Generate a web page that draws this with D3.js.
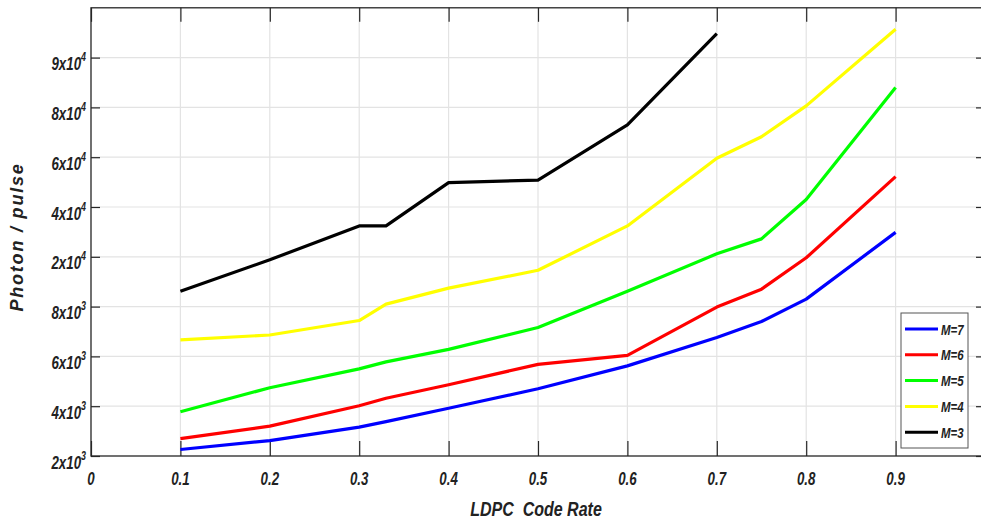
<!DOCTYPE html>
<html>
<head>
<meta charset="utf-8">
<script src="https://cdn.jsdelivr.net/npm/d3@7"></script>
<style>
  body { margin: 0; background: #fff; }
  svg { display: block; }
  .tick-label { font-family: "Liberation Sans", Arial, sans-serif; font-style: italic; font-weight: bold; fill: #222; }
</style>
</head>
<body>
<svg id="chart"></svg>
<script>
const width = 981
const height = 522

// x values (LDPC code rate) for each series
const ratesLong = [0.1, 0.2, 0.3, 0.33, 0.4, 0.5, 0.6, 0.7, 0.75, 0.8, 0.9]
const ratesM3 = [0.1, 0.2, 0.3, 0.33, 0.4, 0.5, 0.6, 0.7]

// photon / pulse
const m7 = [2260, 2620, 3160, 3380, 3920, 4700, 5620, 6760, 7400, 9800, 29800]
const m6 = [2700, 3200, 4020, 4320, 4860, 5680, 6040, 7980, 12200, 19760, 52200]
const m5 = [3780, 4740, 5500, 5780, 6280, 7160, 11720, 21200, 27200, 43000, 84000]
const m4 = [6660, 6860, 7440, 8600, 12440, 16760, 32400, 59600, 68200, 80300, 95700]
const m3 = [11720, 19280, 32400, 32400, 49800, 50800, 73000, 94800]

// y ticks are spaced evenly, whatever their value
const yTickValues = [2000, 4000, 6000, 8000, 20000, 40000, 60000, 80000, 90000]
const yTickMant = ['2', '4', '6', '8', '2', '4', '6', '8', '9']
const yTickExp = ['3', '3', '3', '3', '4', '4', '4', '4', '4']
const xTicks = [0, 0.1, 0.2, 0.3, 0.4, 0.5, 0.6, 0.7, 0.8, 0.9]

const series = [
  { name: 'M=7', color: '#0000ff', x: ratesLong, y: m7 },
  { name: 'M=6', color: '#ff0000', x: ratesLong, y: m6 },
  { name: 'M=5', color: '#00ff00', x: ratesLong, y: m5 },
  { name: 'M=4', color: '#ffff00', x: ratesLong, y: m4 },
  { name: 'M=3', color: '#000000', x: ratesM3, y: m3 }
]

const pLeft = 91, pRight = 985, pTop = 7.8, pBottom = 456
const step = (pBottom - pTop) / 9
const narrow = 0.74 // no narrow font installed, squeeze instead

const svg = d3.select('#chart').attr('width', width).attr('height', height)

const x = d3.scaleLinear().domain([0, 1]).range([pLeft, pRight])
// piecewise scale over the tick values
const y = d3.scaleLinear()
  .domain(yTickValues)
  .range(yTickValues.map((d, i) => pBottom - i * step))

// grid
const grid = svg.append('g').attr('class', 'grid')
grid.selectAll('.vg')
  .data(xTicks.slice(1))
  .enter()
  .append('line')
  .attr('x1', d => x(d)).attr('x2', d => x(d))
  .attr('y1', pTop).attr('y2', pBottom)
  .attr('stroke', '#e3e3e3').attr('stroke-width', 1.2)
grid.selectAll('.hg')
  .data(yTickValues.slice(1))
  .enter()
  .append('line')
  .attr('x1', pLeft).attr('x2', pRight)
  .attr('y1', d => y(d)).attr('y2', d => y(d))
  .attr('stroke', '#e3e3e3').attr('stroke-width', 1.2)

// box
svg.append('rect')
  .attr('x', pLeft).attr('y', pTop)
  .attr('width', pRight - pLeft).attr('height', pBottom - pTop)
  .attr('fill', 'none').attr('stroke', '#262626').attr('stroke-width', 1.3)

// axes with inward ticks
const xAxisB = d3.axisBottom(x).tickValues(xTicks).tickSize(-15).tickFormat('')
const xAxisT = d3.axisTop(x).tickValues(xTicks).tickSize(-14).tickFormat('')
const yAxisL = d3.axisLeft(y).tickValues(yTickValues).tickSize(-9).tickFormat('')
const yAxisR = d3.axisRight(y).tickValues(yTickValues).tickSize(-9).tickFormat('')

function styleAxis(g) {
  g.select('.domain').remove()
  g.selectAll('.tick line').attr('stroke', '#262626').attr('stroke-width', 1.2)
}
svg.append('g').attr('transform', `translate(0,${pBottom})`).call(xAxisB).call(styleAxis)
svg.append('g').attr('transform', `translate(0,${pTop})`).call(xAxisT).call(styleAxis)
svg.append('g').attr('transform', `translate(${pLeft},0)`).call(yAxisL).call(styleAxis)
svg.append('g').attr('transform', `translate(${pRight},0)`).call(yAxisR).call(styleAxis)

// x tick labels
svg.append('g')
  .selectAll('text')
  .data(xTicks)
  .enter()
  .append('text')
  .attr('class', 'tick-label')
  .attr('transform', d => `translate(${x(d)},485) scale(${narrow},1)`)
  .attr('text-anchor', 'middle')
  .attr('font-size', 18)
  .text(d => d === 0 ? '0' : d3.format('.1f')(d))

// y tick labels with superscript
const yLab = svg.append('g')
  .selectAll('text')
  .data(yTickValues)
  .enter()
  .append('text')
  .attr('class', 'tick-label')
  .attr('transform', d => `translate(86,${y(d) + 12.5}) scale(${narrow},1)`)
  .attr('text-anchor', 'end')
  .attr('font-size', 18)
yLab.append('tspan').text((d, i) => yTickMant[i] + 'x10')
yLab.append('tspan').attr('dy', -9).attr('font-size', 12).text((d, i) => yTickExp[i])

// lines
const line = d3.line().x(d => x(d[0])).y(d => y(d[1]))
svg.append('g')
  .selectAll('path')
  .data(series)
  .enter()
  .append('path')
  .attr('d', s => line(s.x.map((v, i) => [v, s.y[i]])))
  .attr('fill', 'none')
  .attr('stroke', s => s.color)
  .attr('stroke-width', 3.2)
  .attr('stroke-linejoin', 'round')

// legend
const lg = svg.append('g').attr('class', 'legend')
lg.append('rect')
  .attr('x', 901).attr('y', 313).attr('width', 67).attr('height', 135)
  .attr('fill', '#fff').attr('stroke', '#555').attr('stroke-width', 1)
const items = lg.selectAll('.item')
  .data(series)
  .enter()
  .append('g')
  .attr('transform', (d, i) => `translate(0,${329 + i * 25.8})`)
items.append('line')
  .attr('x1', 905).attr('x2', 938)
  .attr('stroke', d => d.color).attr('stroke-width', 3)
items.append('text')
  .attr('class', 'tick-label')
  .attr('transform', `translate(941,5.5) scale(${narrow},1)`)
  .attr('font-size', 15.5)
  .text(d => d.name)

// axis titles
svg.append('text')
  .attr('transform', 'translate(23,237) rotate(-90)')
  .attr('text-anchor', 'middle')
  .attr('font-family', '"Liberation Sans", Arial, sans-serif')
  .attr('font-style', 'italic')
  .attr('font-weight', 'bold')
  .attr('font-size', 18)
  .attr('letter-spacing', 1.8)
  .attr('fill', '#222')
  .text('Photon / pulse')

svg.append('text')
  .attr('class', 'tick-label')
  .attr('transform', `translate(536,516) scale(0.8,1)`)
  .attr('text-anchor', 'middle')
  .attr('font-size', 20)
  .style('white-space', 'pre')
  .text('LDPC  Code Rate')
</script>
</body>
</html>
